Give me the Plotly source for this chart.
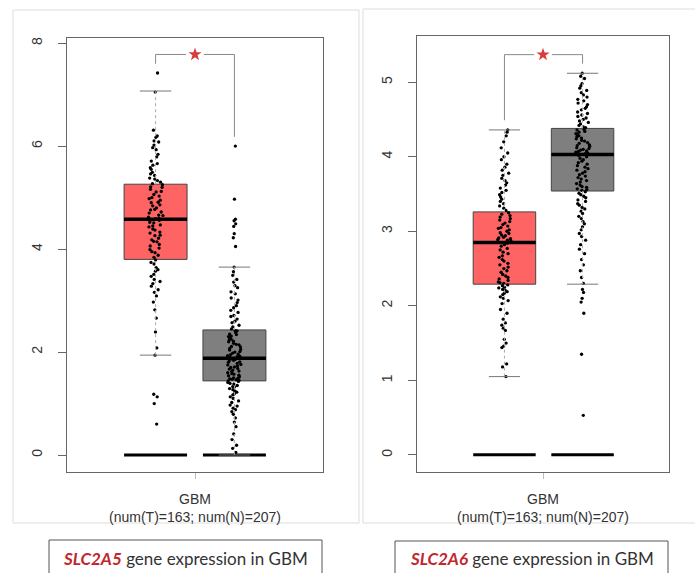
import plotly.graph_objects as go

# ---------------- data ----------------
genes = ["SLC2A5", "SLC2A6"]
x_label = "GBM<br>(num(T)=163; num(N)=207)"

# box statistics [tumor, normal]
q1_5 = [3.80, 1.44]
med_5 = [4.58, 1.88]
q3_5 = [5.26, 2.43]
lo_5 = [1.94, 0.0]
hi_5 = [7.07, 3.65]

q1_6 = [2.29, 3.54]
med_6 = [2.85, 4.03]
q3_6 = [3.26, 4.38]
lo_6 = [1.05, 2.29]
hi_6 = [4.36, 5.12]

# significance bracket: [left leg end, top, right leg end]
bracket_5 = [7.60, 7.78, 6.18]
bracket_6 = [4.49, 5.37, 5.25]

tumor_5 = [7.42, 7.05, 6.31, 6.2, 6.17, 6.1, 6.08, 6.02, 5.97, 5.93, 5.84, 5.79, 5.71, 5.66, 5.63, 5.58,
           5.55, 5.49, 5.46, 5.43, 5.38, 5.36, 5.33, 5.3, 5.27,
           5.25, 5.21, 5.2, 5.16, 5.12, 5.11, 5.06, 5.03, 5.0, 4.98, 4.95, 4.91, 4.9, 4.86, 4.84, 4.8,
           4.77, 4.76, 4.72, 4.7, 4.66, 4.65, 4.62, 4.6, 4.59,
           4.57, 4.56, 4.52, 4.51, 4.47, 4.45, 4.43, 4.39, 4.37, 4.33, 4.31, 4.27, 4.26, 4.21, 4.18,
           4.15, 4.14, 4.09, 4.06, 4.02, 3.99, 3.95, 3.93, 3.88, 3.84,
           3.79, 3.74, 3.71, 3.64, 3.6, 3.57, 3.51, 3.47, 3.41, 3.37, 3.33, 3.28, 3.21, 3.16, 3.09,
           2.97, 2.82, 2.66, 2.39, 2.08, 1.94, 1.18, 1.13, 1.0, 0.6]

normal_5 = [6.0, 4.97, 4.58, 4.55, 4.49, 4.44, 4.3, 4.22, 4.05,
            3.65, 3.56, 3.49, 3.41, 3.36, 3.29, 3.25, 3.17, 3.13, 3.05, 3.01, 2.96, 2.9, 2.86, 2.81,
            2.77, 2.71, 2.69, 2.64, 2.6, 2.57, 2.52, 2.49, 2.45,
            2.42, 2.41, 2.38, 2.35, 2.34, 2.31, 2.3, 2.27, 2.25, 2.24, 2.21, 2.2, 2.17, 2.15, 2.14,
            2.11, 2.1, 2.07, 2.05, 2.04, 2.01, 2.0, 1.98, 1.96, 1.95, 1.93, 1.92, 1.91, 1.9, 1.89,
            1.87, 1.86, 1.84, 1.83, 1.81, 1.8, 1.78, 1.76, 1.75, 1.73, 1.71, 1.7, 1.68, 1.67, 1.65,
            1.63, 1.62, 1.6, 1.58, 1.57, 1.55, 1.54, 1.52, 1.5, 1.49, 1.48, 1.47, 1.46, 1.45, 1.44,
            1.43, 1.41, 1.39, 1.38, 1.35, 1.33, 1.32, 1.29, 1.27, 1.24, 1.22, 1.19, 1.17, 1.13, 1.1,
            1.05, 1.02, 0.97, 0.95, 0.91, 0.88, 0.84, 0.79, 0.72, 0.64, 0.55, 0.41, 0.3, 0.19, 0.13, 0.05]

tumor_6 = [4.36, 4.33, 4.28, 4.2, 4.12, 4.05, 4.0, 3.96, 3.9, 3.86, 3.82, 3.78, 3.75, 3.71, 3.68,
           3.65, 3.62, 3.58, 3.55, 3.52, 3.49, 3.46, 3.43, 3.4, 3.37, 3.34, 3.31, 3.28,
           3.25, 3.23, 3.21, 3.19, 3.17, 3.15, 3.13, 3.11, 3.09, 3.07, 3.05, 3.04, 3.02, 3.0, 2.98,
           2.97, 2.95, 2.94, 2.92, 2.91, 2.9, 2.89, 2.88, 2.87, 2.86,
           2.84, 2.82, 2.8, 2.77, 2.75, 2.72, 2.7, 2.67, 2.65, 2.62, 2.6, 2.57, 2.55, 2.52, 2.5,
           2.47, 2.45, 2.42, 2.4, 2.38, 2.36, 2.34, 2.32, 2.31, 2.3,
           2.28, 2.27, 2.25, 2.24, 2.22, 2.21, 2.19, 2.17, 2.15, 2.12, 2.1, 2.07, 2.03, 1.95, 1.9,
           1.82, 1.77, 1.74, 1.7, 1.67, 1.55, 1.5, 1.46, 1.44, 1.22, 1.18, 1.05]

normal_6 = [5.12, 5.08, 5.05, 4.98, 4.95, 4.92, 4.89, 4.86, 4.83, 4.8, 4.77, 4.75, 4.72, 4.7, 4.67,
            4.65, 4.63, 4.6, 4.58, 4.56, 4.54, 4.52, 4.5, 4.48, 4.46, 4.44, 4.42, 4.4, 4.39,
            4.37, 4.36, 4.34, 4.33, 4.31, 4.3, 4.28, 4.27, 4.25, 4.24, 4.22, 4.21, 4.19, 4.18, 4.16,
            4.15, 4.14, 4.12, 4.11, 4.1, 4.09, 4.08, 4.07, 4.06, 4.05, 4.04,
            4.02, 4.0, 3.98, 3.96, 3.94, 3.92, 3.9, 3.88, 3.86, 3.84, 3.82, 3.8, 3.78, 3.76, 3.74,
            3.72, 3.7, 3.68, 3.66, 3.64, 3.62, 3.6, 3.59, 3.57, 3.56, 3.55,
            3.53, 3.51, 3.49, 3.47, 3.45, 3.42, 3.4, 3.37, 3.35, 3.32, 3.3, 3.27, 3.24, 3.2, 3.17,
            3.13, 3.1, 3.06, 3.02, 2.97, 2.93, 2.88, 2.82, 2.76, 2.7, 2.62, 2.55, 2.47, 2.38, 2.3,
            2.22, 2.18, 2.1, 2.05, 1.9, 1.35, 0.53]

y_tickvals_5 = [0, 2, 4, 6, 8]
y_tickvals_6 = [0, 1, 2, 3, 4, 5]

# ---------------- style ----------------
W, H = 695, 573
RED = "#FF6464"
GREY = "#7F7F7F"
AX = "#666666"
TXT = "#333333"
FONT = "Liberation Sans, Arial, sans-serif"

panels = [
    dict(xa="x", ya="y", pos=[0.346, 0.654], width=0.246,
         q1=q1_5, med=med_5, q3=q3_5, lo=lo_5, hi=hi_5,
         pts=[tumor_5, normal_5], br=bracket_5),
    dict(xa="x2", ya="y2", pos=[0.347, 0.657], width=0.248,
         q1=q1_6, med=med_6, q3=q3_6, lo=lo_6, hi=hi_6,
         pts=[tumor_6, normal_6], br=bracket_6),
]

fig = go.Figure()
for p in panels:
    for i, col in enumerate([RED, GREY]):
        pos = p["pos"][i]
        half_cap = p["width"] / 4
        # dotted whiskers
        for a, b in [(p["q3"][i], p["hi"][i]), (p["lo"][i], p["q1"][i])]:
            fig.add_trace(go.Scatter(x=[pos, pos], y=[a, b], mode="lines",
                                     line=dict(color="#AAAAAA", width=1, dash="dot"),
                                     xaxis=p["xa"], yaxis=p["ya"], hoverinfo="skip", showlegend=False))
        # whisker caps
        for v in [p["hi"][i], p["lo"][i]]:
            fig.add_trace(go.Scatter(x=[pos - half_cap, pos + half_cap], y=[v, v], mode="lines",
                                     line=dict(color="#777777", width=1),
                                     xaxis=p["xa"], yaxis=p["ya"], hoverinfo="skip", showlegend=False))
        # zero bar (all-zero group)
        fig.add_trace(go.Box(
            x=[pos], q1=[0], median=[0], q3=[0], lowerfence=[0], upperfence=[0],
            width=p["width"], fillcolor="rgba(0,0,0,0)", line=dict(color="black", width=3),
            whiskerwidth=0, xaxis=p["xa"], yaxis=p["ya"], hoverinfo="skip", showlegend=False))
        # main box (no whiskers)
        fig.add_trace(go.Box(
            x=[pos], q1=[p["q1"][i]], median=[p["med"][i]], q3=[p["q3"][i]],
            lowerfence=[p["q1"][i]], upperfence=[p["q3"][i]],
            width=p["width"], fillcolor=col, line=dict(color="#444444", width=1),
            whiskerwidth=0, xaxis=p["xa"], yaxis=p["ya"], hoverinfo="skip", showlegend=False))
        # thick median
        fig.add_trace(go.Box(
            x=[pos], q1=[p["med"][i]], median=[p["med"][i]], q3=[p["med"][i]],
            lowerfence=[p["med"][i]], upperfence=[p["med"][i]],
            width=p["width"], fillcolor="rgba(0,0,0,0)", line=dict(color="black", width=3.5),
            whiskerwidth=0, xaxis=p["xa"], yaxis=p["ya"], hoverinfo="skip", showlegend=False))
        # jittered points
        vals = p["pts"][i]
        fig.add_trace(go.Box(
            x=[pos] * len(vals), y=vals, width=p["width"],
            boxpoints="all", jitter=0.25, pointpos=0,
            fillcolor="rgba(0,0,0,0)", line=dict(color="rgba(0,0,0,0)", width=0),
            marker=dict(color="black", size=3.3), xaxis=p["xa"], yaxis=p["ya"],
            hoverinfo="y", showlegend=False))
    # bracket
    xl, xr = p["pos"]
    gap = 0.035
    fig.add_trace(go.Scatter(x=[xl, xl, 0.5 - gap], y=[p["br"][0], p["br"][1], p["br"][1]],
                             mode="lines", line=dict(color="#888888", width=1),
                             xaxis=p["xa"], yaxis=p["ya"], hoverinfo="skip", showlegend=False))
    fig.add_trace(go.Scatter(x=[0.5 + gap, xr, xr], y=[p["br"][1], p["br"][1], p["br"][2]],
                             mode="lines", line=dict(color="#888888", width=1),
                             xaxis=p["xa"], yaxis=p["ya"], hoverinfo="skip", showlegend=False))
    fig.add_trace(go.Scatter(x=[0.5], y=[p["br"][1]], mode="markers",
                             marker=dict(symbol="star", size=10, color="#D93B3B"),
                             xaxis=p["xa"], yaxis=p["ya"], hoverinfo="skip", showlegend=False))

common_x = dict(range=[0, 1], tickvals=[0.5], ticktext=[x_label], ticks="outside", ticklen=6,
                tickcolor="#BBBBBB", showline=True, mirror=True, linecolor=AX, linewidth=1,
                showgrid=False, zeroline=False, tickfont=dict(family=FONT, size=14, color=TXT),
                ticklabelstandoff=8, fixedrange=True)
common_y = dict(ticks="outside", ticklen=8, tickcolor=AX, showline=True, mirror=True,
                linecolor=AX, linewidth=1, showgrid=False, zeroline=False, tickangle=-90,
                tickfont=dict(family=FONT, size=14, color=TXT), ticklabelstandoff=10,
                fixedrange=True)

fig.update_layout(
    width=W, height=H, margin=dict(l=0, r=0, t=0, b=0),
    paper_bgcolor="white", plot_bgcolor="white", boxmode="overlay", showlegend=False,
    xaxis=dict(domain=[67 / W, 323 / W], anchor="y", **common_x),
    xaxis2=dict(domain=[417 / W, 669 / W], anchor="y2", **common_x),
    yaxis=dict(domain=[1 - 472 / H, 1 - 38 / H], anchor="x", range=[-0.33, 8.1],
               tickvals=y_tickvals_5, **common_y),
    yaxis2=dict(domain=[1 - 472 / H, 1 - 36 / H], anchor="x2", range=[-0.23, 5.62],
                tickvals=y_tickvals_6, **common_y),
    shapes=[
        dict(type="rect", xref="paper", yref="paper", x0=13 / W, x1=359 / W,
             y0=1 - 523 / H, y1=1 - 10 / H, line=dict(color="#DDDDDD", width=1), layer="below"),
        dict(type="rect", xref="paper", yref="paper", x0=363 / W, x1=1.01,
             y0=1 - 523 / H, y1=1 - 9 / H, line=dict(color="#DDDDDD", width=1), layer="below"),
        dict(type="rect", xref="paper", yref="paper", x0=49 / W, x1=322 / W,
             y0=-0.02, y1=1 - 540 / H, line=dict(color="#555555", width=1)),
        dict(type="rect", xref="paper", yref="paper", x0=395 / W, x1=668 / W,
             y0=-0.02, y1=1 - 541 / H, line=dict(color="#555555", width=1)),
    ],
    annotations=[
        dict(xref="paper", yref="paper", x=185.5 / W, y=1 - 558 / H, showarrow=False,
             xanchor="center", yanchor="middle",
             text=f"<b><i><span style='color:#C0282D'>{genes[0]}</span></i></b> gene expression in GBM",
             font=dict(family="Lato, Noto Sans, sans-serif", size=17, color="#333333")),
        dict(xref="paper", yref="paper", x=531.5 / W, y=1 - 558 / H, showarrow=False,
             xanchor="center", yanchor="middle",
             text=f"<b><i><span style='color:#C0282D'>{genes[1]}</span></i></b> gene expression in GBM",
             font=dict(family="Lato, Noto Sans, sans-serif", size=17, color="#333333")),
    ],
)

fig.write_html("out.html")
